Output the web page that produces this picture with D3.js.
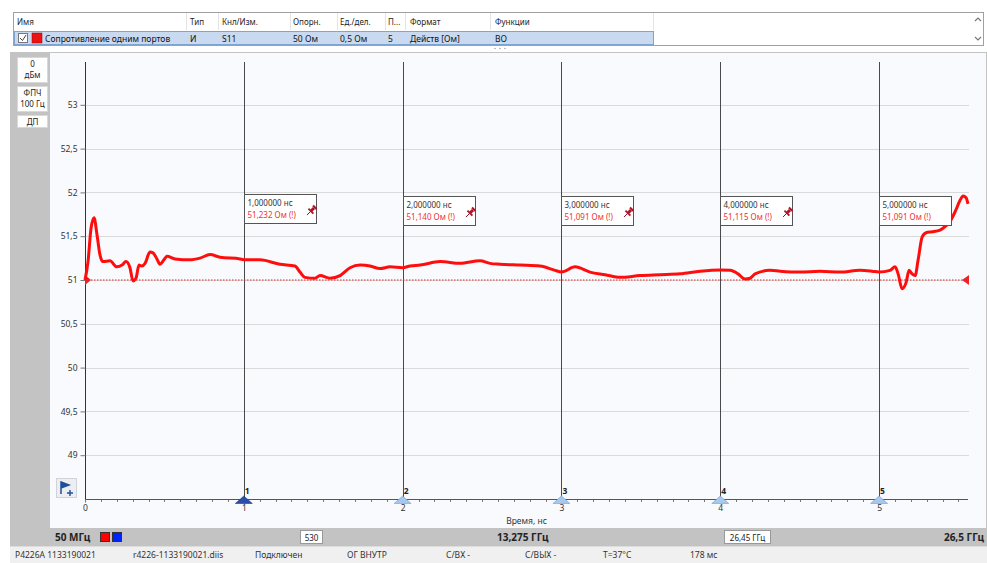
<!DOCTYPE html>
<html>
<head>
<meta charset="utf-8">
<script src="https://cdn.jsdelivr.net/npm/d3@7"></script>
<style>
  body { margin: 0; background: #fff; }
  svg { display: block; font-family: 'Noto Sans', sans-serif; }
</style>
</head>
<body>
<div id="chart"></div>
<script>
// trace values (time in ns, resistance in Ohm)
const times = [0, 0.019, 0.038, 0.057, 0.076, 0.094, 0.113, 0.157, 0.2, 0.233, 0.258, 0.283, 0.302, 0.321,
  0.34, 0.359, 0.378, 0.409, 0.428, 0.453, 0.472, 0.497, 0.516, 0.567, 0.661, 0.724, 0.787, 0.85, 0.976, 1.0,
  1.102, 1.228, 1.322, 1.354, 1.385, 1.448, 1.48, 1.543, 1.606, 1.669, 1.732, 1.795, 1.858, 1.921, 2.0, 2.047,
  2.11, 2.236, 2.361, 2.487, 2.55, 2.613, 2.739, 2.865, 2.96, 3.0, 3.086, 3.18, 3.275, 3.369, 3.495, 3.621,
  3.747, 3.873, 4.0, 4.062, 4.112, 4.156, 4.188, 4.219, 4.314, 4.377, 4.502, 4.628, 4.754, 4.88, 4.956, 5.0,
  5.069, 5.101, 5.12, 5.145, 5.17, 5.189, 5.208, 5.227, 5.246, 5.271, 5.296, 5.334, 5.384, 5.422, 5.447,
  5.479, 5.51, 5.529, 5.548, 5.56]
const ohms = [51.0, 51.21, 51.59, 51.71, 51.51, 51.29, 51.21, 51.22, 51.15, 51.17, 51.21, 51.14, 50.99, 51.02,
  51.17, 51.16, 51.19, 51.32, 51.31, 51.24, 51.18, 51.23, 51.27, 51.24, 51.23, 51.25, 51.29, 51.26, 51.24, 51.232,
  51.23, 51.18, 51.16, 51.09, 51.03, 51.02, 51.05, 51.02, 51.05, 51.14, 51.17, 51.16, 51.13, 51.15, 51.14, 51.16,
  51.17, 51.21, 51.19, 51.22, 51.19, 51.18, 51.17, 51.16, 51.11, 51.091, 51.15, 51.09, 51.06, 51.03, 51.05, 51.06,
  51.07, 51.10, 51.115, 51.11, 51.07, 51.01, 51.02, 51.07, 51.11, 51.10, 51.09, 51.10, 51.09, 51.11, 51.10, 51.091,
  51.11, 51.15, 51.07, 50.90, 50.97, 51.11, 51.07, 51.05, 51.23, 51.49, 51.54, 51.55, 51.57, 51.62, 51.67,
  51.78, 51.91, 51.96, 51.94, 51.87]

const markerIds = [1, 2, 3, 4, 5]
const markerTimes = [1, 2, 3, 4, 5]
const markerTimeLabels = ['1,000000 нс', '2,000000 нс', '3,000000 нс', '4,000000 нс', '5,000000 нс']
const markerValueLabels = ['51,232 Ом (!)', '51,140 Ом (!)', '51,091 Ом (!)', '51,115 Ом (!)', '51,091 Ом (!)']
const markerPinned = [true, true, true, true, false]

const yTicks = [49, 49.5, 50, 50.5, 51, 51.5, 52, 52.5, 53]
const xTicks = [0, 1, 2, 3, 4, 5]
const refLevel = 51

const tableHeaders = ['Имя', 'Тип', 'Кнл/Изм.', 'Опорн.', 'Ед./дел.', 'П...', 'Формат', 'Функции']
const tableRow = ['Сопротивление одним портов', 'И', 'S11', '50 Ом', '0,5 Ом', '5', 'Действ [Ом]', 'ВО']
const statusItems = ['Р4226А 1133190021', 'r4226-1133190021.diis', 'Подключен', 'ОГ ВНУТР', 'С/ВХ -', 'С/ВЫХ -', 'Т=37°С', '178 мс']

const width = 987
const height = 563
const fmt = d => String(d).replace('.', ',')

const svg = d3.select('#chart').append('svg')
  .attr('width', width)
  .attr('height', height)

// ---- trace table at the top ----
const colX = [17, 190, 222, 293, 340, 388, 410, 495]
const colSep = [186, 218, 290, 337, 385, 405, 490, 653]
svg.append('rect').attr('x', 13.5).attr('y', 12.5).attr('width', 970).attr('height', 33)
  .attr('fill', '#fff').attr('stroke', '#a0a0a0')
svg.selectAll('.colsep').data(colSep).join('line')
  .attr('x1', d => d + 0.5).attr('x2', d => d + 0.5).attr('y1', 13).attr('y2', 30)
  .attr('stroke', '#e4e4e4')
svg.append('rect').attr('x', 14.5).attr('y', 31.5).attr('width', 639).attr('height', 13)
  .attr('fill', '#c9d9f0').attr('stroke', '#7fa3d3')
svg.selectAll('.hdr').data(tableHeaders).join('text')
  .attr('x', (d, i) => colX[i]).attr('y', 25)
  .attr('font-size', 8).attr('fill', '#222').text(d => d)
svg.selectAll('.cell').data(tableRow).join('text')
  .attr('x', (d, i) => i === 0 ? 45 : colX[i]).attr('y', 41.5)
  .attr('font-size', 8.5).attr('fill', '#111').text(d => d)
svg.append('rect').attr('x', 18.5).attr('y', 33.5).attr('width', 9).attr('height', 9)
  .attr('fill', '#fff').attr('stroke', '#777')
svg.append('path').attr('d', 'M20,38 L22.5,40.5 L26,35').attr('fill', 'none').attr('stroke', '#444')
svg.append('rect').attr('x', 32).attr('y', 33).attr('width', 10).attr('height', 10)
  .attr('fill', '#ee1111').attr('stroke', '#900').attr('stroke-width', 0.5)
// scroll arrows
svg.append('path').attr('d', 'M975,21 l3,-3 l3,3').attr('fill', 'none').attr('stroke', '#777').attr('stroke-width', 1.2)
svg.append('path').attr('d', 'M975,37 l3,3 l3,-3').attr('fill', 'none').attr('stroke', '#777').attr('stroke-width', 1.2)
svg.selectAll('.dots').data([495, 500, 505]).join('circle')
  .attr('cx', d => d).attr('cy', 48.5).attr('r', 0.8).attr('fill', '#aaa')

// ---- frame: gray panels ----
svg.append('rect').attr('x', 10).attr('y', 52).attr('width', 977).attr('height', 494).attr('fill', '#c3c3c3')
svg.append('rect').attr('x', 50).attr('y', 53).attr('width', 936).attr('height', 475).attr('fill', '#f9fafd')

// left side buttons
const sideButtons = [
  { y: 57, h: 25, lines: ['0', 'дБм'] },
  { y: 86, h: 25, lines: ['ФПЧ', '100 Гц'] },
  { y: 115, h: 12, lines: ['ДП'] }
]
sideButtons.forEach(b => {
  svg.append('rect').attr('x', 17.5).attr('y', b.y + 0.5).attr('width', 30).attr('height', b.h)
    .attr('fill', '#fff').attr('stroke', '#d8d8d8')
  b.lines.forEach((t, i) => {
    svg.append('text').attr('x', 32.5).attr('y', b.y + 9.5 + i * 11).attr('text-anchor', 'middle')
      .attr('font-size', 8).attr('fill', '#222').text(t)
  })
})

// ---- chart ----
const x = d3.scaleLinear().domain([0, 5.56]).range([85, 968])
const y = d3.scaleLinear().domain([48.5, 53.5]).range([499, 61])

// horizontal grid
svg.append('g')
  .selectAll('line').data(yTicks).join('line')
  .attr('x1', x(0)).attr('x2', 969)
  .attr('y1', d => Math.round(y(d)) + 0.5).attr('y2', d => Math.round(y(d)) + 0.5)
  .attr('stroke', '#dadada')

// y axis
const yAxis = svg.append('g')
  .attr('transform', `translate(${x(0) + 0.5},0)`)
  .call(d3.axisLeft(y).tickValues(yTicks).tickFormat(fmt).tickSize(5).tickPadding(3))
yAxis.select('.domain').attr('d', `M0,62V${y(48.5)}`).attr('stroke', '#333')
yAxis.selectAll('.tick line').attr('stroke', '#777')
yAxis.selectAll('text').attr('font-size', 8.5).attr('fill', '#333').attr('font-family', "'Noto Sans', sans-serif")

// x axis with minor ticks
const minorTicks = d3.range(0, 56).map(i => i / 10)
svg.append('g').selectAll('line').data(minorTicks).join('line')
  .attr('x1', d => Math.round(x(d)) + 0.5).attr('x2', d => Math.round(x(d)) + 0.5)
  .attr('y1', 499).attr('y2', 502).attr('stroke', '#777')
const xAxis = svg.append('g')
  .attr('transform', `translate(0,${y(48.5) + 0.5})`)
  .call(d3.axisBottom(x).tickValues(xTicks).tickFormat(fmt).tickSize(3).tickPadding(2))
xAxis.select('.domain').attr('d', `M${x(0)},0H${x(5.56)}`).attr('stroke', '#555')
xAxis.selectAll('.tick line').attr('stroke', '#777')
xAxis.selectAll('text').attr('font-size', 8.5).attr('fill', '#333').attr('font-family', "'Noto Sans', sans-serif")
svg.append('text').attr('x', (x(0) + x(5.56)) / 2).attr('y', 524).attr('text-anchor', 'middle')
  .attr('font-size', 8.5).attr('fill', '#333').text('Время, нс')

// marker vertical lines
svg.append('g').selectAll('line').data(markerTimes).join('line')
  .attr('x1', d => Math.round(x(d)) + 0.5).attr('x2', d => Math.round(x(d)) + 0.5)
  .attr('y1', 62).attr('y2', 499)
  .attr('stroke', '#4a4a4a')

// reference level
svg.append('line')
  .attr('x1', x(0)).attr('x2', x(5.56)).attr('y1', y(refLevel)).attr('y2', y(refLevel))
  .attr('stroke', '#ee2222').attr('stroke-width', 1.2).attr('stroke-dasharray', '1.5,1.5')
svg.append('path')
  .attr('d', `M${x(0)},${y(refLevel) - 5}l6,5l-6,5z`).attr('fill', '#ee2222')
svg.append('path')
  .attr('d', `M${x(5.56) + 1},${y(refLevel) - 5}l-7,5l7,5z`).attr('fill', '#ee2222')

// trace
const line = d3.line().x((d, i) => x(times[i])).y(d => y(d)).curve(d3.curveMonotoneX)
svg.append('path')
  .datum(ohms)
  .attr('d', line)
  .attr('fill', 'none')
  .attr('stroke', '#ff0d0d')
  .attr('stroke-width', 3)
  .attr('stroke-linejoin', 'round')

// marker readout boxes
const boxTop = [194, 196, 196, 196, 196]
markerTimes.forEach((t, i) => {
  const bx = Math.round(x(t)) + 0.5
  const g = svg.append('g').attr('transform', `translate(${bx},${boxTop[i] + 0.5})`)
  g.append('rect').attr('width', 72).attr('height', 29).attr('fill', '#fff').attr('stroke', '#555')
  g.append('text').attr('x', 3).attr('y', 11).attr('font-size', 8).attr('fill', '#333').text(markerTimeLabels[i])
  g.append('text').attr('x', 3).attr('y', 23).attr('font-size', 8).attr('fill', '#f03030').text(markerValueLabels[i])
  if (markerPinned[i]) {
    // small push pin, needle pointing down-left
    const pin = g.append('g').attr('transform', 'translate(66,17) rotate(45)')
    pin.append('rect').attr('x', -2.5).attr('y', -7).attr('width', 5).attr('height', 2).attr('fill', '#b01428')
    pin.append('rect').attr('x', -1.5).attr('y', -5).attr('width', 3).attr('height', 4).attr('fill', '#b01428')
    pin.append('rect').attr('x', -3.5).attr('y', -1.5).attr('width', 7).attr('height', 1.8).attr('fill', '#b01428')
    pin.append('line').attr('x1', 0).attr('x2', 0).attr('y1', 0).attr('y2', 5).attr('stroke', '#7a0d1a').attr('stroke-width', 0.9)
  }
})

// marker triangles on the x axis
markerTimes.forEach((t, i) => {
  const mx = x(t)
  svg.append('path')
    .attr('d', `M${mx - 8.5},503.5 L${mx},496 L${mx + 8.5},503.5 Z`)
    .attr('fill', i === 0 ? '#2a4fa8' : '#a6c8ec')
    .attr('stroke', i === 0 ? '#1e3c85' : '#6f9fd0').attr('stroke-width', 0.6)
  svg.append('text').attr('x', mx + 1).attr('y', 494).attr('font-size', 8.5).attr('font-weight', 'bold')
    .attr('fill', '#222').text(markerIds[i])
})

// add-marker button
svg.append('rect').attr('x', 56.5).attr('y', 478.5).attr('width', 20).attr('height', 19)
  .attr('fill', '#eceef2').attr('stroke', '#cfd3da')
svg.append('path').attr('d', 'M61,482 v12 M61,482 l8,3 l-8,3 z').attr('stroke', '#1f4f9a')
  .attr('stroke-width', 1.5).attr('fill', '#1f4f9a')
svg.append('path').attr('d', 'M70,490 v6 M67,493 h6').attr('stroke', '#1f4f9a').attr('stroke-width', 1.4)

// ---- bottom frequency bar ----
svg.append('text').attr('x', 55).attr('y', 541).attr('font-size', 10).attr('font-weight', 'bold')
  .attr('fill', '#222').text('50 МГц')
svg.append('rect').attr('x', 100.5).attr('y', 532.5).attr('width', 9).attr('height', 9).attr('fill', '#f00').attr('stroke', '#333')
svg.append('rect').attr('x', 112.5).attr('y', 532.5).attr('width', 9).attr('height', 9).attr('fill', '#0020ff').attr('stroke', '#333')
svg.append('rect').attr('x', 300.5).attr('y', 530.5).attr('width', 22).attr('height', 13).attr('fill', '#fff').attr('stroke', '#999')
svg.append('text').attr('x', 311.5).attr('y', 540.5).attr('text-anchor', 'middle').attr('font-size', 8).attr('fill', '#222').text('530')
svg.append('text').attr('x', 497).attr('y', 541).attr('font-size', 10).attr('font-weight', 'bold')
  .attr('fill', '#222').text('13,275 ГГц')
svg.append('rect').attr('x', 724.5).attr('y', 530.5).attr('width', 46).attr('height', 13).attr('fill', '#fff').attr('stroke', '#999')
svg.append('text').attr('x', 747.5).attr('y', 540.5).attr('text-anchor', 'middle').attr('font-size', 8).attr('fill', '#222').text('26,45 ГГц')
svg.append('text').attr('x', 984).attr('y', 541).attr('text-anchor', 'end').attr('font-size', 10).attr('font-weight', 'bold')
  .attr('fill', '#222').text('26,5 ГГц')

// ---- status bar ----
const statusX = [15, 133, 255, 347, 446, 525, 603, 690]
svg.append('rect').attr('x', 10).attr('y', 546).attr('width', 977).attr('height', 17).attr('fill', '#f0f0f0')
svg.append('line').attr('x1', 10).attr('x2', 987).attr('y1', 546.5).attr('y2', 546.5).attr('stroke', '#ddd')
svg.selectAll('.status').data(statusItems).join('text')
  .attr('x', (d, i) => statusX[i]).attr('y', 558)
  .attr('font-size', 8.5).attr('fill', '#333').text(d => d)
</script>
</body>
</html>
